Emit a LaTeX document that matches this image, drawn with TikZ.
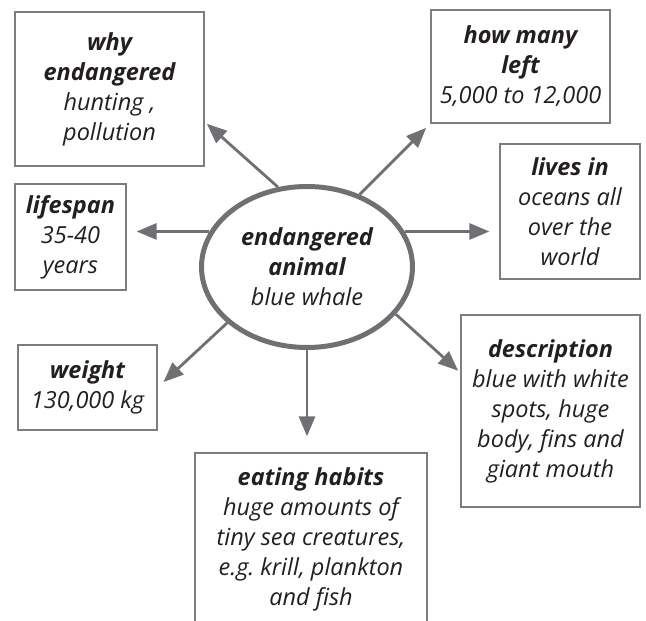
\documentclass[tikz,border=0pt]{standalone}
\usepackage{fontspec}
\setmainfont{Open Sans}
\usetikzlibrary{arrows.meta,positioning,calc,shapes.geometric}
\definecolor{linegray}{RGB}{112,112,116}
\definecolor{boxgray}{RGB}{125,125,125}
\definecolor{inkblack}{RGB}{35,31,32}
\newcommand{\head}[1]{{\bfseries\itshape #1}}

\begin{document}
\begin{tikzpicture}[x=1pt,y=-1pt,
  every node/.style={align=center,text=inkblack,font=\fontsize{23.5}{30}\selectfont\itshape},
  infobox/.style={draw=boxgray,line width=1.2pt,inner sep=0pt},
  hub/.style={ellipse,draw=linegray,line width=5pt,minimum width=211pt,minimum height=161pt,inner sep=0pt},
  link/.style={draw=linegray,line width=2.8pt,-{Triangle[length=20pt,width=16pt]}}]
\clip (0,0) rectangle (646,621);
\node[hub] (animal) at (307,267) {\head{endangered}\\\head{animal}\\blue whale};
\node[infobox,minimum width=189pt,minimum height=154pt] (why) at (109.5,89) {\head{why}\\\head{endangered}\\hunting ,\\pollution};
\node[infobox,minimum width=111pt,minimum height=106pt] (lifespan) at (70.5,237) {\head{lifespan}\\35-40\\years};
\node[infobox,minimum width=179pt,minimum height=113pt] (howmany) at (520.5,66.5) {\head{how many}\\\head{left}\\5,000 to 12,000};
\node[infobox,minimum width=140pt,minimum height=135pt] (livesin) at (570,211.5) {\head{lives in}\\oceans all\\over the\\world};
\node[infobox,minimum width=139pt,minimum height=85pt] (weight) at (87.5,387.5) {\head{weight}\\130,000 kg};
\node[infobox,minimum width=232pt,minimum height=172pt] (eating) at (311,539) {\head{eating habits}\\huge amounts of\\tiny sea creatures,\\e.g.\ krill, plankton\\and fish};
\node[infobox,minimum width=179pt,minimum height=192pt] (description) at (550.5,411) {\head{description}\\blue with white\\spots, huge\\body, fins and\\giant mouth};

\draw[link,shorten >=3pt] (animal.110) -- (why.-19);
\draw[link,shorten >=10pt] (animal.160) -- (animal.160 -| lifespan.east);
\draw[link,shorten >=6pt] (animal.54) -- (howmany.south west);
\draw[link,shorten >=10pt] (animal.20) -- (animal.20 -| livesin.west);
\draw[link,shorten >=8pt] (animal.215) -- (weight.east);
\draw[link,shorten >=16pt] (animal.south) -- (animal.south |- eating.north);
\draw[link,shorten >=3pt] (animal.-28) -- (description.157);
\end{tikzpicture}
\end{document}
